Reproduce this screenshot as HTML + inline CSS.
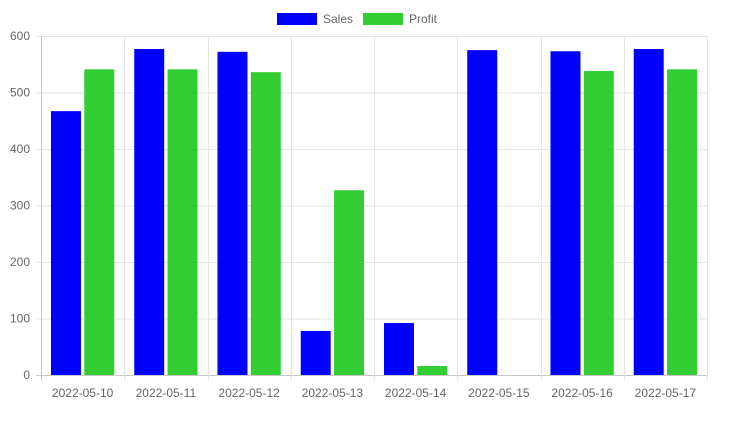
<!DOCTYPE html>
<html><head><meta charset="utf-8"><style>
body{margin:0;background:#fff;}
svg{display:block;font-family:"Liberation Sans",Arial,sans-serif;}
</style></head><body>
<svg id="chart" width="737" height="421" xmlns="http://www.w3.org/2000/svg">
<g id="legend">
<g><rect x="277" y="13" width="40" height="12" fill="#0000ff"/><text x="323" y="23" font-size="12" fill="#666">Sales</text></g>
<g><rect x="363" y="13" width="40" height="12" fill="#32cd32"/><text x="409" y="23" font-size="12" fill="#666">Profit</text></g>
</g>
<g id="grid"></g>
<g id="bars"></g>
<g id="axes"></g>
</svg>
<script>
const categories=["2022-05-10","2022-05-11","2022-05-12","2022-05-13","2022-05-14","2022-05-15","2022-05-16","2022-05-17"];
const salesValues=[467,577,572,78,92,575,573,577];
const profitValues=[541,541,536,327,16,0,538,541];
const yTicks=[0,100,200,300,400,500,600];
const L=41,R=707,T=36,B=375,yMax=600;
const NS="http://www.w3.org/2000/svg";
const y=v=>B-(v/yMax)*(B-T);
const cw=(R-L)/categories.length;
const x=i=>L+i*cw;
function mk(tag,attrs,parent){const e=document.createElementNS(NS,tag);for(const k in attrs)e.setAttribute(k,attrs[k]);parent.appendChild(e);return e;}
const grid=document.getElementById('grid'),bars=document.getElementById('bars'),axes=document.getElementById('axes');
yTicks.forEach(t=>{
 const ln=mk('line',{x1:36,x2:R,y1:y(t)+0.5,y2:y(t)+0.5,stroke:t===0?'#c8c8c8':'#e5e5e5','stroke-width':1},grid);
 
 
 const tx=mk('text',{x:30,y:y(t)+4,'font-size':12,fill:'#666','text-anchor':'end'},axes);
 tx.textContent=t;
 
 
});
for(let i=0;i<=categories.length;i++){
 const ln=mk('line',{x1:Math.round(x(i))+0.5,x2:Math.round(x(i))+0.5,y1:T,y2:B+6,stroke:i===0?'#c8c8c8':'#e5e5e5','stroke-width':1},grid);
 
 
}
const bw=cw*0.8/2*0.9;
categories.forEach((c,i)=>{
 const c0=x(i)+cw*0.1;
 const sx=c0+(cw*0.4-bw)/2;
 const s=mk('rect',{x:sx,y:y(salesValues[i]),width:bw,height:B-y(salesValues[i]),fill:'#0000ff'},bars);
 
 
 const px=c0+cw*0.4+(cw*0.4-bw)/2;
 const p=mk('rect',{x:px,y:y(profitValues[i]),width:bw,height:B-y(profitValues[i]),fill:'#32cd32'},bars);
 
 
 const tx=mk('text',{x:x(i)+cw/2,y:397,'font-size':12,fill:'#666','text-anchor':'middle'},axes);
 tx.textContent=c;
 
 
});
</script>
</body></html>
